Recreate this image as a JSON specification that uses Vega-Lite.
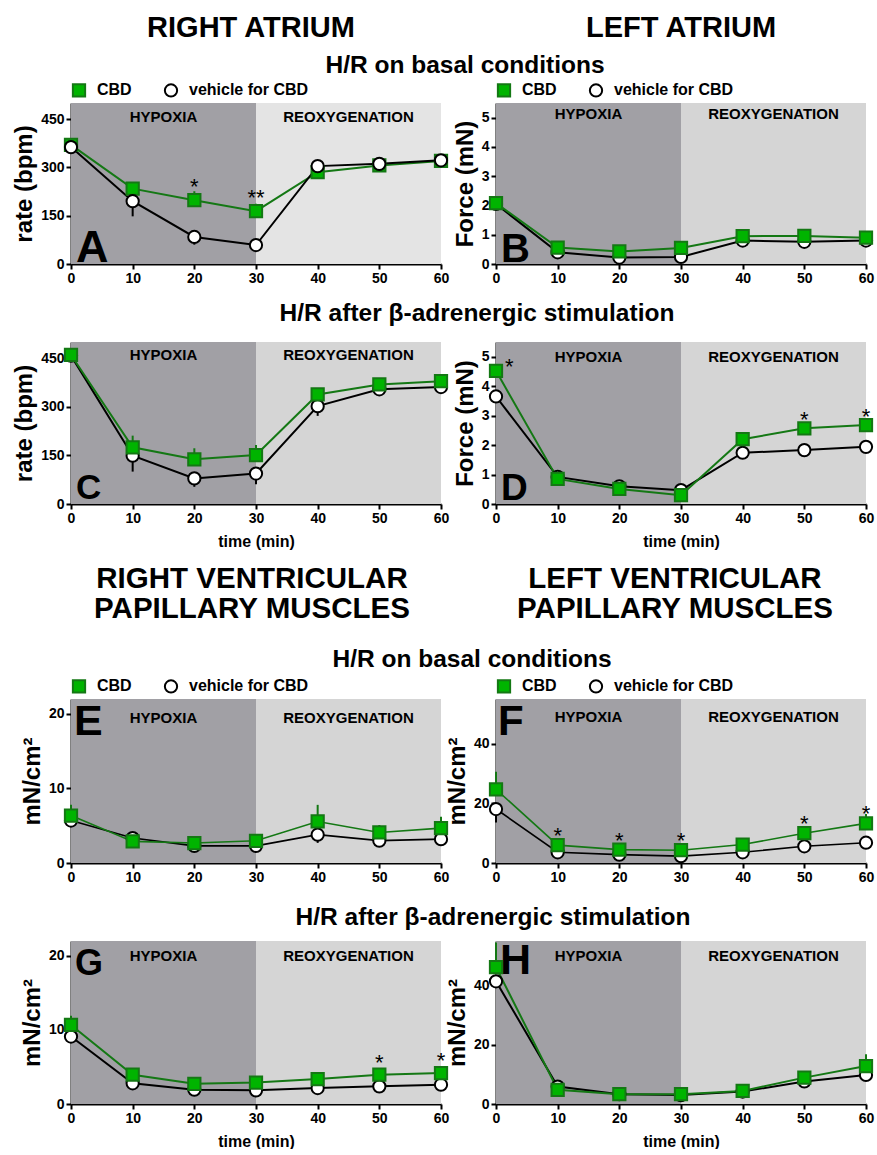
{
  "$schema": "https://vega.github.io/schema/vega-lite/v6.json",
  "background": "white",
  "padding": {"left": 12, "top": 5, "right": 3, "bottom": 0},
  "columns": 2,
  "bounds": "flush",
  "align": "each",
  "spacing": {"row": 78, "column": 55},
  "resolve": {
    "scale": {"color": "independent", "fill": "independent", "stroke": "independent", "shape": "independent"},
    "legend": {"color": "independent", "fill": "independent", "stroke": "independent", "shape": "independent"}
  },
  "datasets": {
    "phases": [
      {"phase": "HYPOXIA", "start": 0, "end": 30, "mid": 15},
      {"phase": "REOXYGENATION", "start": 30, "end": 60, "mid": 45}
    ]
  },
  "concat": [
    {"width": 370, "height": 20, "data": {"values": [{"label": "RIGHT ATRIUM"}]},
     "mark": {"type": "text", "fontSize": 29, "fontWeight": "bold", "baseline": "alphabetic", "dy": 22, "dx": -5},
     "encoding": {"text": {"field": "label"}}},
    {"width": 370, "height": 20, "data": {"values": [{"label": "LEFT ATRIUM"}]},
     "mark": {"type": "text", "fontSize": 29, "fontWeight": "bold", "baseline": "alphabetic", "dy": 22},
     "encoding": {"text": {"field": "label"}}},

    {"width": 370, "height": 161,
     "title": {"text": "H/R on basal conditions", "dx": 209, "offset": 4},
     "data": {"values": [
       {"t": 0, "series": "CBD", "v": 370},
       {"t": 10, "series": "CBD", "v": 234},
       {"t": 20, "series": "CBD", "v": 198, "e": 226, "star": "*"},
       {"t": 30, "series": "CBD", "v": 164, "e": 187, "star": "**"},
       {"t": 40, "series": "CBD", "v": 285},
       {"t": 50, "series": "CBD", "v": 306},
       {"t": 60, "series": "CBD", "v": 320},
       {"t": 0, "series": "vehicle for CBD", "v": 363},
       {"t": 10, "series": "vehicle for CBD", "v": 195, "e": 148},
       {"t": 20, "series": "vehicle for CBD", "v": 84, "e": 60},
       {"t": 30, "series": "vehicle for CBD", "v": 59},
       {"t": 40, "series": "vehicle for CBD", "v": 304},
       {"t": 50, "series": "vehicle for CBD", "v": 311},
       {"t": 60, "series": "vehicle for CBD", "v": 322}
     ]},
     "layer": [
       {"data": {"name": "phases"}, "mark": "rect",
        "encoding": {
          "x": {"field": "start", "type": "quantitative", "scale": {"domain": [0, 60], "nice": false, "zero": false}, "axis": {"values": [0, 10, 20, 30, 40, 50, 60], "title": null}},
          "x2": {"field": "end"},
          "color": {"field": "phase", "type": "nominal", "scale": {"domain": ["HYPOXIA", "REOXYGENATION"], "range": ["#a1a0a5", "#e4e4e4"]}, "legend": null}}},
       {"data": {"name": "phases"}, "mark": {"type": "text", "fontSize": 15, "fontWeight": "bold", "baseline": "alphabetic", "dy": 19},
        "encoding": {
          "x": {"field": "mid", "type": "quantitative", "scale": {"domain": [0, 60], "nice": false, "zero": false}, "axis": {"values": [0, 10, 20, 30, 40, 50, 60], "title": null}},
          "y": {"datum": 500, "type": "quantitative", "scale": {"domain": [0, 500], "nice": false}, "axis": {"values": [0, 150, 300, 450], "title": "rate (bpm)"}},
          "text": {"field": "phase"}}},
       {"data": {"values": [{"letter": "A"}]}, "mark": {"type": "text", "fontSize": 45, "fontWeight": "bold", "align": "left", "baseline": "alphabetic", "dx": 5, "dy": -2},
        "encoding": {
          "x": {"datum": 0, "type": "quantitative", "scale": {"domain": [0, 60], "nice": false, "zero": false}, "axis": {"values": [0, 10, 20, 30, 40, 50, 60], "title": null}},
          "y": {"datum": 0, "type": "quantitative", "scale": {"domain": [0, 500], "nice": false}, "axis": {"values": [0, 150, 300, 450], "title": "rate (bpm)"}},
          "text": {"field": "letter"}}},
       {"transform": [{"filter": "datum.e != null"}], "mark": {"type": "rule", "strokeWidth": 2},
        "encoding": {
          "x": {"field": "t", "type": "quantitative", "scale": {"domain": [0, 60], "nice": false, "zero": false}, "axis": {"values": [0, 10, 20, 30, 40, 50, 60], "title": null}},
          "y": {"field": "v", "type": "quantitative", "scale": {"domain": [0, 500], "nice": false}, "axis": {"values": [0, 150, 300, 450], "title": "rate (bpm)"}},
          "y2": {"field": "e"},
          "stroke": {"field": "series", "type": "nominal", "scale": {"domain": ["CBD", "vehicle for CBD"], "range": ["#147814", "#000000"]}}}},
       {"mark": {"type": "line", "strokeWidth": 2},
        "encoding": {
          "x": {"field": "t", "type": "quantitative", "scale": {"domain": [0, 60], "nice": false, "zero": false}, "axis": {"values": [0, 10, 20, 30, 40, 50, 60], "title": null}},
          "y": {"field": "v", "type": "quantitative", "scale": {"domain": [0, 500], "nice": false}, "axis": {"values": [0, 150, 300, 450], "title": "rate (bpm)"}},
          "stroke": {"field": "series", "type": "nominal", "scale": {"domain": ["CBD", "vehicle for CBD"], "range": ["#147814", "#000000"]}}}},
       {"mark": {"type": "point", "filled": true, "size": 150, "strokeWidth": 2, "opacity": 1},
        "encoding": {
          "x": {"field": "t", "type": "quantitative", "scale": {"domain": [0, 60], "nice": false, "zero": false}, "axis": {"values": [0, 10, 20, 30, 40, 50, 60], "title": null}},
          "y": {"field": "v", "type": "quantitative", "scale": {"domain": [0, 500], "nice": false}, "axis": {"values": [0, 150, 300, 450], "title": "rate (bpm)"}},
          "fill": {"field": "series", "type": "nominal", "scale": {"domain": ["CBD", "vehicle for CBD"], "range": ["#00b400", "#ffffff"]}, "legend": {"title": null}},
          "stroke": {"field": "series", "type": "nominal", "scale": {"domain": ["CBD", "vehicle for CBD"], "range": ["#147814", "#000000"]}, "legend": {"title": null}},
          "shape": {"field": "series", "type": "nominal", "scale": {"domain": ["CBD", "vehicle for CBD"], "range": ["square", "circle"]}, "legend": {"title": null}}}},
       {"transform": [{"filter": "datum.star"}], "mark": {"type": "text", "fontSize": 22, "baseline": "alphabetic", "dy": -6},
        "encoding": {
          "x": {"field": "t", "type": "quantitative", "scale": {"domain": [0, 60], "nice": false, "zero": false}, "axis": {"values": [0, 10, 20, 30, 40, 50, 60], "title": null}},
          "y": {"field": "v", "type": "quantitative", "scale": {"domain": [0, 500], "nice": false}, "axis": {"values": [0, 150, 300, 450], "title": "rate (bpm)"}},
          "text": {"field": "star"}}}
     ]},

    {"width": 370, "height": 161,
     "data": {"values": [
       {"t": 0, "series": "vehicle for CBD", "v": 2.05},
       {"t": 10, "series": "vehicle for CBD", "v": 0.40},
       {"t": 20, "series": "vehicle for CBD", "v": 0.22},
       {"t": 30, "series": "vehicle for CBD", "v": 0.24},
       {"t": 40, "series": "vehicle for CBD", "v": 0.80},
       {"t": 50, "series": "vehicle for CBD", "v": 0.76},
       {"t": 60, "series": "vehicle for CBD", "v": 0.80},
       {"t": 0, "series": "CBD", "v": 2.08},
       {"t": 10, "series": "CBD", "v": 0.56},
       {"t": 20, "series": "CBD", "v": 0.43},
       {"t": 30, "series": "CBD", "v": 0.55},
       {"t": 40, "series": "CBD", "v": 0.95},
       {"t": 50, "series": "CBD", "v": 0.96},
       {"t": 60, "series": "CBD", "v": 0.90}
     ]},
     "layer": [
       {"data": {"name": "phases"}, "mark": "rect",
        "encoding": {
          "x": {"field": "start", "type": "quantitative", "scale": {"domain": [0, 60], "nice": false, "zero": false}, "axis": {"values": [0, 10, 20, 30, 40, 50, 60], "title": null}},
          "x2": {"field": "end"},
          "color": {"field": "phase", "type": "nominal", "scale": {"domain": ["HYPOXIA", "REOXYGENATION"], "range": ["#a1a0a5", "#d5d5d5"]}, "legend": null}}},
       {"data": {"name": "phases"}, "mark": {"type": "text", "fontSize": 15, "fontWeight": "bold", "baseline": "alphabetic", "dy": 16},
        "encoding": {
          "x": {"field": "mid", "type": "quantitative", "scale": {"domain": [0, 60], "nice": false, "zero": false}, "axis": {"values": [0, 10, 20, 30, 40, 50, 60], "title": null}},
          "y": {"datum": 5.5, "type": "quantitative", "scale": {"domain": [0, 5.5], "nice": false}, "axis": {"values": [0, 1, 2, 3, 4, 5], "title": "Force (mN)"}},
          "text": {"field": "phase"}}},
       {"data": {"values": [{"letter": "B"}]}, "mark": {"type": "text", "fontSize": 40, "fontWeight": "bold", "align": "left", "baseline": "alphabetic", "dx": 5, "dy": -2},
        "encoding": {
          "x": {"datum": 0, "type": "quantitative", "scale": {"domain": [0, 60], "nice": false, "zero": false}, "axis": {"values": [0, 10, 20, 30, 40, 50, 60], "title": null}},
          "y": {"datum": 0, "type": "quantitative", "scale": {"domain": [0, 5.5], "nice": false}, "axis": {"values": [0, 1, 2, 3, 4, 5], "title": "Force (mN)"}},
          "text": {"field": "letter"}}},
       {"mark": {"type": "line", "strokeWidth": 2},
        "encoding": {
          "x": {"field": "t", "type": "quantitative", "scale": {"domain": [0, 60], "nice": false, "zero": false}, "axis": {"values": [0, 10, 20, 30, 40, 50, 60], "title": null}},
          "y": {"field": "v", "type": "quantitative", "scale": {"domain": [0, 5.5], "nice": false}, "axis": {"values": [0, 1, 2, 3, 4, 5], "title": "Force (mN)"}},
          "stroke": {"field": "series", "type": "nominal", "scale": {"domain": ["CBD", "vehicle for CBD"], "range": ["#147814", "#000000"]}}}},
       {"mark": {"type": "point", "filled": true, "size": 150, "strokeWidth": 2, "opacity": 1},
        "encoding": {
          "x": {"field": "t", "type": "quantitative", "scale": {"domain": [0, 60], "nice": false, "zero": false}, "axis": {"values": [0, 10, 20, 30, 40, 50, 60], "title": null}},
          "y": {"field": "v", "type": "quantitative", "scale": {"domain": [0, 5.5], "nice": false}, "axis": {"values": [0, 1, 2, 3, 4, 5], "title": "Force (mN)"}},
          "fill": {"field": "series", "type": "nominal", "scale": {"domain": ["CBD", "vehicle for CBD"], "range": ["#00b400", "#ffffff"]}, "legend": {"title": null}},
          "stroke": {"field": "series", "type": "nominal", "scale": {"domain": ["CBD", "vehicle for CBD"], "range": ["#147814", "#000000"]}, "legend": {"title": null}},
          "shape": {"field": "series", "type": "nominal", "scale": {"domain": ["CBD", "vehicle for CBD"], "range": ["square", "circle"]}, "legend": {"title": null}}}}
     ]},

    {"width": 370, "height": 162,
     "title": {"text": "H/R after β-adrenergic stimulation", "dx": 221, "offset": 16},
     "data": {"values": [
       {"t": 0, "series": "vehicle for CBD", "v": 458},
       {"t": 10, "series": "vehicle for CBD", "v": 149, "e": 100},
       {"t": 20, "series": "vehicle for CBD", "v": 79, "e": 53},
       {"t": 30, "series": "vehicle for CBD", "v": 94, "e": 61},
       {"t": 40, "series": "vehicle for CBD", "v": 302, "e": 272},
       {"t": 50, "series": "vehicle for CBD", "v": 354},
       {"t": 60, "series": "vehicle for CBD", "v": 361},
       {"t": 0, "series": "CBD", "v": 460},
       {"t": 10, "series": "CBD", "v": 175, "e": 211},
       {"t": 20, "series": "CBD", "v": 138, "e": 172},
       {"t": 30, "series": "CBD", "v": 151, "e": 182},
       {"t": 40, "series": "CBD", "v": 338},
       {"t": 50, "series": "CBD", "v": 369},
       {"t": 60, "series": "CBD", "v": 379}
     ]},
     "layer": [
       {"data": {"name": "phases"}, "mark": "rect",
        "encoding": {
          "x": {"field": "start", "type": "quantitative", "scale": {"domain": [0, 60], "nice": false, "zero": false}, "axis": {"values": [0, 10, 20, 30, 40, 50, 60], "title": "time (min)"}},
          "x2": {"field": "end"},
          "color": {"field": "phase", "type": "nominal", "scale": {"domain": ["HYPOXIA", "REOXYGENATION"], "range": ["#a1a0a5", "#d5d5d5"]}, "legend": null}}},
       {"data": {"name": "phases"}, "mark": {"type": "text", "fontSize": 15, "fontWeight": "bold", "baseline": "alphabetic", "dy": 18},
        "encoding": {
          "x": {"field": "mid", "type": "quantitative", "scale": {"domain": [0, 60], "nice": false, "zero": false}, "axis": {"values": [0, 10, 20, 30, 40, 50, 60], "title": "time (min)"}},
          "y": {"datum": 500, "type": "quantitative", "scale": {"domain": [0, 500], "nice": false}, "axis": {"values": [0, 150, 300, 450], "title": "rate (bpm)"}},
          "text": {"field": "phase"}}},
       {"data": {"values": [{"letter": "C"}]}, "mark": {"type": "text", "fontSize": 35, "fontWeight": "bold", "align": "left", "baseline": "alphabetic", "dx": 5, "dy": -5},
        "encoding": {
          "x": {"datum": 0, "type": "quantitative", "scale": {"domain": [0, 60], "nice": false, "zero": false}, "axis": {"values": [0, 10, 20, 30, 40, 50, 60], "title": "time (min)"}},
          "y": {"datum": 0, "type": "quantitative", "scale": {"domain": [0, 500], "nice": false}, "axis": {"values": [0, 150, 300, 450], "title": "rate (bpm)"}},
          "text": {"field": "letter"}}},
       {"transform": [{"filter": "datum.e != null"}], "mark": {"type": "rule", "strokeWidth": 2},
        "encoding": {
          "x": {"field": "t", "type": "quantitative", "scale": {"domain": [0, 60], "nice": false, "zero": false}, "axis": {"values": [0, 10, 20, 30, 40, 50, 60], "title": "time (min)"}},
          "y": {"field": "v", "type": "quantitative", "scale": {"domain": [0, 500], "nice": false}, "axis": {"values": [0, 150, 300, 450], "title": "rate (bpm)"}},
          "y2": {"field": "e"},
          "stroke": {"field": "series", "type": "nominal", "scale": {"domain": ["CBD", "vehicle for CBD"], "range": ["#147814", "#000000"]}, "legend": null}}},
       {"mark": {"type": "line", "strokeWidth": 2},
        "encoding": {
          "x": {"field": "t", "type": "quantitative", "scale": {"domain": [0, 60], "nice": false, "zero": false}, "axis": {"values": [0, 10, 20, 30, 40, 50, 60], "title": "time (min)"}},
          "y": {"field": "v", "type": "quantitative", "scale": {"domain": [0, 500], "nice": false}, "axis": {"values": [0, 150, 300, 450], "title": "rate (bpm)"}},
          "stroke": {"field": "series", "type": "nominal", "scale": {"domain": ["CBD", "vehicle for CBD"], "range": ["#147814", "#000000"]}, "legend": null}}},
       {"mark": {"type": "point", "filled": true, "size": 150, "strokeWidth": 2, "opacity": 1},
        "encoding": {
          "x": {"field": "t", "type": "quantitative", "scale": {"domain": [0, 60], "nice": false, "zero": false}, "axis": {"values": [0, 10, 20, 30, 40, 50, 60], "title": "time (min)"}},
          "y": {"field": "v", "type": "quantitative", "scale": {"domain": [0, 500], "nice": false}, "axis": {"values": [0, 150, 300, 450], "title": "rate (bpm)"}},
          "fill": {"field": "series", "type": "nominal", "scale": {"domain": ["CBD", "vehicle for CBD"], "range": ["#00b400", "#ffffff"]}, "legend": null},
          "stroke": {"field": "series", "type": "nominal", "scale": {"domain": ["CBD", "vehicle for CBD"], "range": ["#147814", "#000000"]}, "legend": null},
          "shape": {"field": "series", "type": "nominal", "scale": {"domain": ["CBD", "vehicle for CBD"], "range": ["square", "circle"]}, "legend": null}}}
     ]},

    {"width": 370, "height": 162,
     "data": {"values": [
       {"t": 0, "series": "vehicle for CBD", "v": 3.65},
       {"t": 10, "series": "vehicle for CBD", "v": 0.92, "e": 1.1},
       {"t": 20, "series": "vehicle for CBD", "v": 0.6},
       {"t": 30, "series": "vehicle for CBD", "v": 0.47},
       {"t": 40, "series": "vehicle for CBD", "v": 1.74},
       {"t": 50, "series": "vehicle for CBD", "v": 1.83},
       {"t": 60, "series": "vehicle for CBD", "v": 1.94},
       {"t": 0, "series": "CBD", "v": 4.52, "star": "*"},
       {"t": 10, "series": "CBD", "v": 0.85},
       {"t": 20, "series": "CBD", "v": 0.51},
       {"t": 30, "series": "CBD", "v": 0.30},
       {"t": 40, "series": "CBD", "v": 2.2},
       {"t": 50, "series": "CBD", "v": 2.57, "star": "*"},
       {"t": 60, "series": "CBD", "v": 2.68, "star": "*"}
     ]},
     "layer": [
       {"data": {"name": "phases"}, "mark": "rect",
        "encoding": {
          "x": {"field": "start", "type": "quantitative", "scale": {"domain": [0, 60], "nice": false, "zero": false}, "axis": {"values": [0, 10, 20, 30, 40, 50, 60], "title": "time (min)"}},
          "x2": {"field": "end"},
          "color": {"field": "phase", "type": "nominal", "scale": {"domain": ["HYPOXIA", "REOXYGENATION"], "range": ["#a1a0a5", "#d5d5d5"]}, "legend": null}}},
       {"data": {"name": "phases"}, "mark": {"type": "text", "fontSize": 15, "fontWeight": "bold", "baseline": "alphabetic", "dy": 20},
        "encoding": {
          "x": {"field": "mid", "type": "quantitative", "scale": {"domain": [0, 60], "nice": false, "zero": false}, "axis": {"values": [0, 10, 20, 30, 40, 50, 60], "title": "time (min)"}},
          "y": {"datum": 5.5, "type": "quantitative", "scale": {"domain": [0, 5.5], "nice": false}, "axis": {"values": [0, 1, 2, 3, 4, 5], "title": "Force (mN)"}},
          "text": {"field": "phase"}}},
       {"data": {"values": [{"letter": "D"}]}, "mark": {"type": "text", "fontSize": 37, "fontWeight": "bold", "align": "left", "baseline": "alphabetic", "dx": 5, "dy": -4},
        "encoding": {
          "x": {"datum": 0, "type": "quantitative", "scale": {"domain": [0, 60], "nice": false, "zero": false}, "axis": {"values": [0, 10, 20, 30, 40, 50, 60], "title": "time (min)"}},
          "y": {"datum": 0, "type": "quantitative", "scale": {"domain": [0, 5.5], "nice": false}, "axis": {"values": [0, 1, 2, 3, 4, 5], "title": "Force (mN)"}},
          "text": {"field": "letter"}}},
       {"transform": [{"filter": "datum.e != null"}], "mark": {"type": "rule", "strokeWidth": 2},
        "encoding": {
          "x": {"field": "t", "type": "quantitative", "scale": {"domain": [0, 60], "nice": false, "zero": false}, "axis": {"values": [0, 10, 20, 30, 40, 50, 60], "title": "time (min)"}},
          "y": {"field": "v", "type": "quantitative", "scale": {"domain": [0, 5.5], "nice": false}, "axis": {"values": [0, 1, 2, 3, 4, 5], "title": "Force (mN)"}},
          "y2": {"field": "e"},
          "stroke": {"field": "series", "type": "nominal", "scale": {"domain": ["CBD", "vehicle for CBD"], "range": ["#147814", "#000000"]}, "legend": null}}},
       {"mark": {"type": "line", "strokeWidth": 2},
        "encoding": {
          "x": {"field": "t", "type": "quantitative", "scale": {"domain": [0, 60], "nice": false, "zero": false}, "axis": {"values": [0, 10, 20, 30, 40, 50, 60], "title": "time (min)"}},
          "y": {"field": "v", "type": "quantitative", "scale": {"domain": [0, 5.5], "nice": false}, "axis": {"values": [0, 1, 2, 3, 4, 5], "title": "Force (mN)"}},
          "stroke": {"field": "series", "type": "nominal", "scale": {"domain": ["CBD", "vehicle for CBD"], "range": ["#147814", "#000000"]}, "legend": null}}},
       {"mark": {"type": "point", "filled": true, "size": 150, "strokeWidth": 2, "opacity": 1},
        "encoding": {
          "x": {"field": "t", "type": "quantitative", "scale": {"domain": [0, 60], "nice": false, "zero": false}, "axis": {"values": [0, 10, 20, 30, 40, 50, 60], "title": "time (min)"}},
          "y": {"field": "v", "type": "quantitative", "scale": {"domain": [0, 5.5], "nice": false}, "axis": {"values": [0, 1, 2, 3, 4, 5], "title": "Force (mN)"}},
          "fill": {"field": "series", "type": "nominal", "scale": {"domain": ["CBD", "vehicle for CBD"], "range": ["#00b400", "#ffffff"]}, "legend": null},
          "stroke": {"field": "series", "type": "nominal", "scale": {"domain": ["CBD", "vehicle for CBD"], "range": ["#147814", "#000000"]}, "legend": null},
          "shape": {"field": "series", "type": "nominal", "scale": {"domain": ["CBD", "vehicle for CBD"], "range": ["square", "circle"]}, "legend": null}}},
       {"transform": [{"filter": "datum.star && datum.t > 0"}], "mark": {"type": "text", "fontSize": 22, "baseline": "alphabetic", "dy": -1},
        "encoding": {
          "x": {"field": "t", "type": "quantitative", "scale": {"domain": [0, 60], "nice": false, "zero": false}, "axis": {"values": [0, 10, 20, 30, 40, 50, 60], "title": "time (min)"}},
          "y": {"field": "v", "type": "quantitative", "scale": {"domain": [0, 5.5], "nice": false}, "axis": {"values": [0, 1, 2, 3, 4, 5], "title": "Force (mN)"}},
          "text": {"field": "star"}}},
       {"transform": [{"filter": "datum.star && datum.t == 0"}], "mark": {"type": "text", "fontSize": 22, "align": "left", "baseline": "alphabetic", "dx": 9, "dy": 3},
        "encoding": {
          "x": {"field": "t", "type": "quantitative", "scale": {"domain": [0, 60], "nice": false, "zero": false}, "axis": {"values": [0, 10, 20, 30, 40, 50, 60], "title": "time (min)"}},
          "y": {"field": "v", "type": "quantitative", "scale": {"domain": [0, 5.5], "nice": false}, "axis": {"values": [0, 1, 2, 3, 4, 5], "title": "Force (mN)"}},
          "text": {"field": "star"}}}
     ]},

    {"width": 370, "height": 39, "data": {"values": [{"label": "RIGHT VENTRICULAR\nPAPILLARY MUSCLES"}]},
     "mark": {"type": "text", "fontSize": 29.5, "fontWeight": "bold", "baseline": "alphabetic", "dy": -13.5, "dx": -4, "lineBreak": "\n", "lineHeight": 30},
     "encoding": {"text": {"field": "label"}}},
    {"width": 370, "height": 39, "data": {"values": [{"label": "LEFT VENTRICULAR\nPAPILLARY MUSCLES"}]},
     "mark": {"type": "text", "fontSize": 29.5, "fontWeight": "bold", "baseline": "alphabetic", "dy": -13.5, "dx": -6, "lineBreak": "\n", "lineHeight": 30},
     "encoding": {"text": {"field": "label"}}},

    {"width": 370, "height": 164,
     "title": {"text": "H/R on basal conditions", "dx": 216, "offset": 6},
     "data": {"values": [
       {"t": 0, "series": "vehicle for CBD", "v": 5.7},
       {"t": 10, "series": "vehicle for CBD", "v": 3.35},
       {"t": 20, "series": "vehicle for CBD", "v": 2.3},
       {"t": 30, "series": "vehicle for CBD", "v": 2.3},
       {"t": 40, "series": "vehicle for CBD", "v": 3.8, "e": 2.7},
       {"t": 50, "series": "vehicle for CBD", "v": 3.0},
       {"t": 60, "series": "vehicle for CBD", "v": 3.2},
       {"t": 0, "series": "CBD", "v": 6.37, "e": 7.8},
       {"t": 10, "series": "CBD", "v": 2.9},
       {"t": 20, "series": "CBD", "v": 2.68},
       {"t": 30, "series": "CBD", "v": 2.98},
       {"t": 40, "series": "CBD", "v": 5.57, "e": 7.8},
       {"t": 50, "series": "CBD", "v": 4.1, "e": 5.1},
       {"t": 60, "series": "CBD", "v": 4.68, "e": 6.2}
     ]},
     "layer": [
       {"data": {"name": "phases"}, "mark": "rect",
        "encoding": {
          "x": {"field": "start", "type": "quantitative", "scale": {"domain": [0, 60], "nice": false, "zero": false}, "axis": {"values": [0, 10, 20, 30, 40, 50, 60], "title": null}},
          "x2": {"field": "end"},
          "color": {"field": "phase", "type": "nominal", "scale": {"domain": ["HYPOXIA", "REOXYGENATION"], "range": ["#a1a0a5", "#d5d5d5"]}, "legend": null}}},
       {"data": {"name": "phases"}, "mark": {"type": "text", "fontSize": 15, "fontWeight": "bold", "baseline": "alphabetic", "dy": 24},
        "encoding": {
          "x": {"field": "mid", "type": "quantitative", "scale": {"domain": [0, 60], "nice": false, "zero": false}, "axis": {"values": [0, 10, 20, 30, 40, 50, 60], "title": null}},
          "y": {"datum": 22, "type": "quantitative", "scale": {"domain": [0, 22], "nice": false}, "axis": {"values": [0, 10, 20], "title": "mN/cm²"}},
          "text": {"field": "phase"}}},
       {"data": {"values": [{"letter": "E"}]}, "mark": {"type": "text", "fontSize": 43, "fontWeight": "bold", "align": "left", "baseline": "alphabetic", "dx": 3, "dy": 36},
        "encoding": {
          "x": {"datum": 0, "type": "quantitative", "scale": {"domain": [0, 60], "nice": false, "zero": false}, "axis": {"values": [0, 10, 20, 30, 40, 50, 60], "title": null}},
          "y": {"datum": 22, "type": "quantitative", "scale": {"domain": [0, 22], "nice": false}, "axis": {"values": [0, 10, 20], "title": "mN/cm²"}},
          "text": {"field": "letter"}}},
       {"transform": [{"filter": "datum.e != null"}], "mark": {"type": "rule", "strokeWidth": 2},
        "encoding": {
          "x": {"field": "t", "type": "quantitative", "scale": {"domain": [0, 60], "nice": false, "zero": false}, "axis": {"values": [0, 10, 20, 30, 40, 50, 60], "title": null}},
          "y": {"field": "v", "type": "quantitative", "scale": {"domain": [0, 22], "nice": false}, "axis": {"values": [0, 10, 20], "title": "mN/cm²"}},
          "y2": {"field": "e"},
          "stroke": {"field": "series", "type": "nominal", "scale": {"domain": ["CBD", "vehicle for CBD"], "range": ["#147814", "#000000"]}}}},
       {"mark": {"type": "line", "strokeWidth": 1.6},
        "encoding": {
          "x": {"field": "t", "type": "quantitative", "scale": {"domain": [0, 60], "nice": false, "zero": false}, "axis": {"values": [0, 10, 20, 30, 40, 50, 60], "title": null}},
          "y": {"field": "v", "type": "quantitative", "scale": {"domain": [0, 22], "nice": false}, "axis": {"values": [0, 10, 20], "title": "mN/cm²"}},
          "stroke": {"field": "series", "type": "nominal", "scale": {"domain": ["CBD", "vehicle for CBD"], "range": ["#147814", "#000000"]}}}},
       {"mark": {"type": "point", "filled": true, "size": 150, "strokeWidth": 2, "opacity": 1},
        "encoding": {
          "x": {"field": "t", "type": "quantitative", "scale": {"domain": [0, 60], "nice": false, "zero": false}, "axis": {"values": [0, 10, 20, 30, 40, 50, 60], "title": null}},
          "y": {"field": "v", "type": "quantitative", "scale": {"domain": [0, 22], "nice": false}, "axis": {"values": [0, 10, 20], "title": "mN/cm²"}},
          "fill": {"field": "series", "type": "nominal", "scale": {"domain": ["CBD", "vehicle for CBD"], "range": ["#00b400", "#ffffff"]}, "legend": {"title": null}},
          "stroke": {"field": "series", "type": "nominal", "scale": {"domain": ["CBD", "vehicle for CBD"], "range": ["#147814", "#000000"]}, "legend": {"title": null}},
          "shape": {"field": "series", "type": "nominal", "scale": {"domain": ["CBD", "vehicle for CBD"], "range": ["square", "circle"]}, "legend": {"title": null}}}}
     ]},

    {"width": 370, "height": 164,
     "data": {"values": [
       {"t": 0, "series": "vehicle for CBD", "v": 18.1, "e": 13.6},
       {"t": 10, "series": "vehicle for CBD", "v": 3.6},
       {"t": 20, "series": "vehicle for CBD", "v": 2.8},
       {"t": 30, "series": "vehicle for CBD", "v": 2.3},
       {"t": 40, "series": "vehicle for CBD", "v": 3.6},
       {"t": 50, "series": "vehicle for CBD", "v": 5.6},
       {"t": 60, "series": "vehicle for CBD", "v": 6.8},
       {"t": 0, "series": "CBD", "v": 24.7, "e": 30.6},
       {"t": 10, "series": "CBD", "v": 6.0, "star": "*"},
       {"t": 20, "series": "CBD", "v": 4.5, "star": "*"},
       {"t": 30, "series": "CBD", "v": 4.3, "star": "*"},
       {"t": 40, "series": "CBD", "v": 6.2},
       {"t": 50, "series": "CBD", "v": 10.0, "star": "*"},
       {"t": 60, "series": "CBD", "v": 13.3, "e": 16.4, "star": "*"}
     ]},
     "layer": [
       {"data": {"name": "phases"}, "mark": "rect",
        "encoding": {
          "x": {"field": "start", "type": "quantitative", "scale": {"domain": [0, 60], "nice": false, "zero": false}, "axis": {"values": [0, 10, 20, 30, 40, 50, 60], "title": null}},
          "x2": {"field": "end"},
          "color": {"field": "phase", "type": "nominal", "scale": {"domain": ["HYPOXIA", "REOXYGENATION"], "range": ["#a1a0a5", "#d5d5d5"]}, "legend": null}}},
       {"data": {"name": "phases"}, "mark": {"type": "text", "fontSize": 15, "fontWeight": "bold", "baseline": "alphabetic", "dy": 23},
        "encoding": {
          "x": {"field": "mid", "type": "quantitative", "scale": {"domain": [0, 60], "nice": false, "zero": false}, "axis": {"values": [0, 10, 20, 30, 40, 50, 60], "title": null}},
          "y": {"datum": 55, "type": "quantitative", "scale": {"domain": [0, 55], "nice": false}, "axis": {"values": [0, 20, 40], "title": "mN/cm²"}},
          "text": {"field": "phase"}}},
       {"data": {"values": [{"letter": "F"}]}, "mark": {"type": "text", "fontSize": 42, "fontWeight": "bold", "align": "left", "baseline": "alphabetic", "dx": 2, "dy": 36},
        "encoding": {
          "x": {"datum": 0, "type": "quantitative", "scale": {"domain": [0, 60], "nice": false, "zero": false}, "axis": {"values": [0, 10, 20, 30, 40, 50, 60], "title": null}},
          "y": {"datum": 55, "type": "quantitative", "scale": {"domain": [0, 55], "nice": false}, "axis": {"values": [0, 20, 40], "title": "mN/cm²"}},
          "text": {"field": "letter"}}},
       {"transform": [{"filter": "datum.e != null"}], "mark": {"type": "rule", "strokeWidth": 2},
        "encoding": {
          "x": {"field": "t", "type": "quantitative", "scale": {"domain": [0, 60], "nice": false, "zero": false}, "axis": {"values": [0, 10, 20, 30, 40, 50, 60], "title": null}},
          "y": {"field": "v", "type": "quantitative", "scale": {"domain": [0, 55], "nice": false}, "axis": {"values": [0, 20, 40], "title": "mN/cm²"}},
          "y2": {"field": "e"},
          "stroke": {"field": "series", "type": "nominal", "scale": {"domain": ["CBD", "vehicle for CBD"], "range": ["#147814", "#000000"]}}}},
       {"mark": {"type": "line", "strokeWidth": 1.6},
        "encoding": {
          "x": {"field": "t", "type": "quantitative", "scale": {"domain": [0, 60], "nice": false, "zero": false}, "axis": {"values": [0, 10, 20, 30, 40, 50, 60], "title": null}},
          "y": {"field": "v", "type": "quantitative", "scale": {"domain": [0, 55], "nice": false}, "axis": {"values": [0, 20, 40], "title": "mN/cm²"}},
          "stroke": {"field": "series", "type": "nominal", "scale": {"domain": ["CBD", "vehicle for CBD"], "range": ["#147814", "#000000"]}}}},
       {"mark": {"type": "point", "filled": true, "size": 150, "strokeWidth": 2, "opacity": 1},
        "encoding": {
          "x": {"field": "t", "type": "quantitative", "scale": {"domain": [0, 60], "nice": false, "zero": false}, "axis": {"values": [0, 10, 20, 30, 40, 50, 60], "title": null}},
          "y": {"field": "v", "type": "quantitative", "scale": {"domain": [0, 55], "nice": false}, "axis": {"values": [0, 20, 40], "title": "mN/cm²"}},
          "fill": {"field": "series", "type": "nominal", "scale": {"domain": ["CBD", "vehicle for CBD"], "range": ["#00b400", "#ffffff"]}, "legend": {"title": null}},
          "stroke": {"field": "series", "type": "nominal", "scale": {"domain": ["CBD", "vehicle for CBD"], "range": ["#147814", "#000000"]}, "legend": {"title": null}},
          "shape": {"field": "series", "type": "nominal", "scale": {"domain": ["CBD", "vehicle for CBD"], "range": ["square", "circle"]}, "legend": {"title": null}}}},
       {"transform": [{"filter": "datum.star"}], "mark": {"type": "text", "fontSize": 22, "baseline": "alphabetic", "dy": -2},
        "encoding": {
          "x": {"field": "t", "type": "quantitative", "scale": {"domain": [0, 60], "nice": false, "zero": false}, "axis": {"values": [0, 10, 20, 30, 40, 50, 60], "title": null}},
          "y": {"field": "v", "type": "quantitative", "scale": {"domain": [0, 55], "nice": false}, "axis": {"values": [0, 20, 40], "title": "mN/cm²"}},
          "text": {"field": "star"}}}
     ]},

    {"width": 370, "height": 163,
     "title": {"text": "H/R after β-adrenergic stimulation", "dx": 237, "offset": 11},
     "data": {"values": [
       {"t": 0, "series": "vehicle for CBD", "v": 9.1},
       {"t": 10, "series": "vehicle for CBD", "v": 2.8},
       {"t": 20, "series": "vehicle for CBD", "v": 1.93},
       {"t": 30, "series": "vehicle for CBD", "v": 1.84},
       {"t": 40, "series": "vehicle for CBD", "v": 2.15},
       {"t": 50, "series": "vehicle for CBD", "v": 2.38},
       {"t": 60, "series": "vehicle for CBD", "v": 2.6},
       {"t": 0, "series": "CBD", "v": 10.67, "e": 11.9},
       {"t": 10, "series": "CBD", "v": 3.95},
       {"t": 20, "series": "CBD", "v": 2.73},
       {"t": 30, "series": "CBD", "v": 2.9},
       {"t": 40, "series": "CBD", "v": 3.36},
       {"t": 50, "series": "CBD", "v": 3.95, "star": "*"},
       {"t": 60, "series": "CBD", "v": 4.17, "star": "*"}
     ]},
     "layer": [
       {"data": {"name": "phases"}, "mark": "rect",
        "encoding": {
          "x": {"field": "start", "type": "quantitative", "scale": {"domain": [0, 60], "nice": false, "zero": false}, "axis": {"values": [0, 10, 20, 30, 40, 50, 60], "title": "time (min)"}},
          "x2": {"field": "end"},
          "color": {"field": "phase", "type": "nominal", "scale": {"domain": ["HYPOXIA", "REOXYGENATION"], "range": ["#a1a0a5", "#d5d5d5"]}, "legend": null}}},
       {"data": {"name": "phases"}, "mark": {"type": "text", "fontSize": 15, "fontWeight": "bold", "baseline": "alphabetic", "dy": 20},
        "encoding": {
          "x": {"field": "mid", "type": "quantitative", "scale": {"domain": [0, 60], "nice": false, "zero": false}, "axis": {"values": [0, 10, 20, 30, 40, 50, 60], "title": "time (min)"}},
          "y": {"datum": 22, "type": "quantitative", "scale": {"domain": [0, 22], "nice": false}, "axis": {"values": [0, 10, 20], "title": "mN/cm²"}},
          "text": {"field": "phase"}}},
       {"data": {"values": [{"letter": "G"}]}, "mark": {"type": "text", "fontSize": 36, "fontWeight": "bold", "align": "left", "baseline": "alphabetic", "dx": 4, "dy": 34},
        "encoding": {
          "x": {"datum": 0, "type": "quantitative", "scale": {"domain": [0, 60], "nice": false, "zero": false}, "axis": {"values": [0, 10, 20, 30, 40, 50, 60], "title": "time (min)"}},
          "y": {"datum": 22, "type": "quantitative", "scale": {"domain": [0, 22], "nice": false}, "axis": {"values": [0, 10, 20], "title": "mN/cm²"}},
          "text": {"field": "letter"}}},
       {"transform": [{"filter": "datum.e != null"}], "mark": {"type": "rule", "strokeWidth": 2},
        "encoding": {
          "x": {"field": "t", "type": "quantitative", "scale": {"domain": [0, 60], "nice": false, "zero": false}, "axis": {"values": [0, 10, 20, 30, 40, 50, 60], "title": "time (min)"}},
          "y": {"field": "v", "type": "quantitative", "scale": {"domain": [0, 22], "nice": false}, "axis": {"values": [0, 10, 20], "title": "mN/cm²"}},
          "y2": {"field": "e"},
          "stroke": {"field": "series", "type": "nominal", "scale": {"domain": ["CBD", "vehicle for CBD"], "range": ["#147814", "#000000"]}, "legend": null}}},
       {"mark": {"type": "line", "strokeWidth": 2},
        "encoding": {
          "x": {"field": "t", "type": "quantitative", "scale": {"domain": [0, 60], "nice": false, "zero": false}, "axis": {"values": [0, 10, 20, 30, 40, 50, 60], "title": "time (min)"}},
          "y": {"field": "v", "type": "quantitative", "scale": {"domain": [0, 22], "nice": false}, "axis": {"values": [0, 10, 20], "title": "mN/cm²"}},
          "stroke": {"field": "series", "type": "nominal", "scale": {"domain": ["CBD", "vehicle for CBD"], "range": ["#147814", "#000000"]}, "legend": null}}},
       {"mark": {"type": "point", "filled": true, "size": 150, "strokeWidth": 2, "opacity": 1},
        "encoding": {
          "x": {"field": "t", "type": "quantitative", "scale": {"domain": [0, 60], "nice": false, "zero": false}, "axis": {"values": [0, 10, 20, 30, 40, 50, 60], "title": "time (min)"}},
          "y": {"field": "v", "type": "quantitative", "scale": {"domain": [0, 22], "nice": false}, "axis": {"values": [0, 10, 20], "title": "mN/cm²"}},
          "fill": {"field": "series", "type": "nominal", "scale": {"domain": ["CBD", "vehicle for CBD"], "range": ["#00b400", "#ffffff"]}, "legend": null},
          "stroke": {"field": "series", "type": "nominal", "scale": {"domain": ["CBD", "vehicle for CBD"], "range": ["#147814", "#000000"]}, "legend": null},
          "shape": {"field": "series", "type": "nominal", "scale": {"domain": ["CBD", "vehicle for CBD"], "range": ["square", "circle"]}, "legend": null}}},
       {"transform": [{"filter": "datum.star"}], "mark": {"type": "text", "fontSize": 22, "baseline": "alphabetic", "dy": -5},
        "encoding": {
          "x": {"field": "t", "type": "quantitative", "scale": {"domain": [0, 60], "nice": false, "zero": false}, "axis": {"values": [0, 10, 20, 30, 40, 50, 60], "title": "time (min)"}},
          "y": {"field": "v", "type": "quantitative", "scale": {"domain": [0, 22], "nice": false}, "axis": {"values": [0, 10, 20], "title": "mN/cm²"}},
          "text": {"field": "star"}}}
     ]},

    {"width": 370, "height": 163,
     "data": {"values": [
       {"t": 0, "series": "vehicle for CBD", "v": 41.4},
       {"t": 10, "series": "vehicle for CBD", "v": 5.9},
       {"t": 20, "series": "vehicle for CBD", "v": 3.3},
       {"t": 30, "series": "vehicle for CBD", "v": 3.0},
       {"t": 40, "series": "vehicle for CBD", "v": 4.2},
       {"t": 50, "series": "vehicle for CBD", "v": 7.6},
       {"t": 60, "series": "vehicle for CBD", "v": 9.8},
       {"t": 0, "series": "CBD", "v": 46.2, "e": 54.5},
       {"t": 10, "series": "CBD", "v": 4.8},
       {"t": 20, "series": "CBD", "v": 3.33},
       {"t": 30, "series": "CBD", "v": 3.33},
       {"t": 40, "series": "CBD", "v": 4.4},
       {"t": 50, "series": "CBD", "v": 8.9},
       {"t": 60, "series": "CBD", "v": 12.8, "e": 16.8}
     ]},
     "layer": [
       {"data": {"name": "phases"}, "mark": "rect",
        "encoding": {
          "x": {"field": "start", "type": "quantitative", "scale": {"domain": [0, 60], "nice": false, "zero": false}, "axis": {"values": [0, 10, 20, 30, 40, 50, 60], "title": "time (min)"}},
          "x2": {"field": "end"},
          "color": {"field": "phase", "type": "nominal", "scale": {"domain": ["HYPOXIA", "REOXYGENATION"], "range": ["#a1a0a5", "#d5d5d5"]}, "legend": null}}},
       {"data": {"name": "phases"}, "mark": {"type": "text", "fontSize": 15, "fontWeight": "bold", "baseline": "alphabetic", "dy": 20},
        "encoding": {
          "x": {"field": "mid", "type": "quantitative", "scale": {"domain": [0, 60], "nice": false, "zero": false}, "axis": {"values": [0, 10, 20, 30, 40, 50, 60], "title": "time (min)"}},
          "y": {"datum": 55, "type": "quantitative", "scale": {"domain": [0, 55], "nice": false}, "axis": {"values": [0, 20, 40], "title": "mN/cm²"}},
          "text": {"field": "phase"}}},
       {"data": {"values": [{"letter": "H"}]}, "mark": {"type": "text", "fontSize": 43, "fontWeight": "bold", "align": "left", "baseline": "alphabetic", "dx": 4, "dy": 33},
        "encoding": {
          "x": {"datum": 0, "type": "quantitative", "scale": {"domain": [0, 60], "nice": false, "zero": false}, "axis": {"values": [0, 10, 20, 30, 40, 50, 60], "title": "time (min)"}},
          "y": {"datum": 55, "type": "quantitative", "scale": {"domain": [0, 55], "nice": false}, "axis": {"values": [0, 20, 40], "title": "mN/cm²"}},
          "text": {"field": "letter"}}},
       {"transform": [{"filter": "datum.e != null"}], "mark": {"type": "rule", "strokeWidth": 2},
        "encoding": {
          "x": {"field": "t", "type": "quantitative", "scale": {"domain": [0, 60], "nice": false, "zero": false}, "axis": {"values": [0, 10, 20, 30, 40, 50, 60], "title": "time (min)"}},
          "y": {"field": "v", "type": "quantitative", "scale": {"domain": [0, 55], "nice": false}, "axis": {"values": [0, 20, 40], "title": "mN/cm²"}},
          "y2": {"field": "e"},
          "stroke": {"field": "series", "type": "nominal", "scale": {"domain": ["CBD", "vehicle for CBD"], "range": ["#147814", "#000000"]}, "legend": null}}},
       {"mark": {"type": "line", "strokeWidth": 2},
        "encoding": {
          "x": {"field": "t", "type": "quantitative", "scale": {"domain": [0, 60], "nice": false, "zero": false}, "axis": {"values": [0, 10, 20, 30, 40, 50, 60], "title": "time (min)"}},
          "y": {"field": "v", "type": "quantitative", "scale": {"domain": [0, 55], "nice": false}, "axis": {"values": [0, 20, 40], "title": "mN/cm²"}},
          "stroke": {"field": "series", "type": "nominal", "scale": {"domain": ["CBD", "vehicle for CBD"], "range": ["#147814", "#000000"]}, "legend": null}}},
       {"mark": {"type": "point", "filled": true, "size": 150, "strokeWidth": 2, "opacity": 1},
        "encoding": {
          "x": {"field": "t", "type": "quantitative", "scale": {"domain": [0, 60], "nice": false, "zero": false}, "axis": {"values": [0, 10, 20, 30, 40, 50, 60], "title": "time (min)"}},
          "y": {"field": "v", "type": "quantitative", "scale": {"domain": [0, 55], "nice": false}, "axis": {"values": [0, 20, 40], "title": "mN/cm²"}},
          "fill": {"field": "series", "type": "nominal", "scale": {"domain": ["CBD", "vehicle for CBD"], "range": ["#00b400", "#ffffff"]}, "legend": null},
          "stroke": {"field": "series", "type": "nominal", "scale": {"domain": ["CBD", "vehicle for CBD"], "range": ["#147814", "#000000"]}, "legend": null},
          "shape": {"field": "series", "type": "nominal", "scale": {"domain": ["CBD", "vehicle for CBD"], "range": ["square", "circle"]}, "legend": null}}}
     ]}
  ],
  "config": {
    "font": "Liberation Sans",
    "view": {"stroke": null},
    "axis": {"grid": false, "domainColor": "#000000", "domainWidth": 2, "tickColor": "#000000", "tickWidth": 2, "tickSize": 5,
             "labelFontSize": 14, "labelFontWeight": "bold", "labelColor": "#000000", "labelPadding": 2,
             "titleFontWeight": "bold", "titleColor": "#000000"},
    "axisX": {"titleFontSize": 16, "titlePadding": 8, "labelFlush": false},
    "axisY": {"titleFontSize": 24, "titlePadding": 4},
    "legend": {"orient": "top", "direction": "horizontal", "labelFontSize": 16, "labelFontWeight": "bold", "labelColor": "#000000",
               "symbolSize": 150, "symbolStrokeWidth": 2, "columnPadding": 28, "labelOffset": 10, "offset": 2, "padding": 0},
    "title": {"fontSize": 24.5, "fontWeight": "bold", "color": "#000000", "baseline": "alphabetic", "anchor": "middle", "frame": "group"},
    "text": {"color": "#000000"}
  }
}
